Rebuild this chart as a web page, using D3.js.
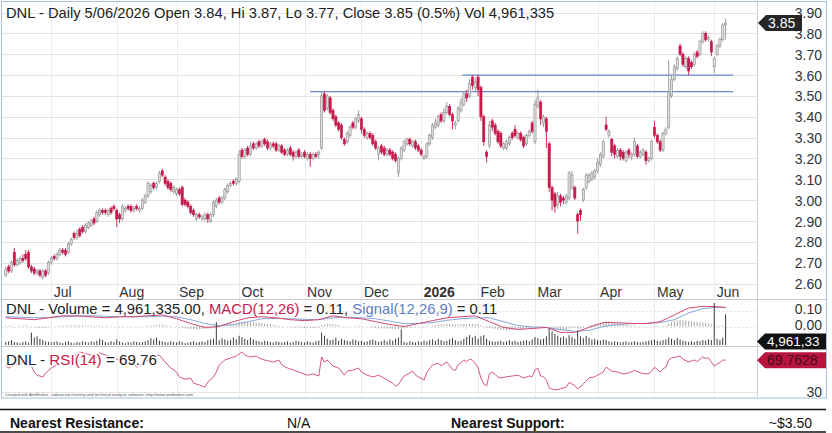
<!DOCTYPE html>
<html><head><meta charset="utf-8">
<script src="https://cdn.jsdelivr.net/npm/d3@7"></script>
<style>body{margin:0;background:#fff;}svg{display:block;font-family:"Liberation Sans",Arial,Helvetica,sans-serif;}</style>
</head><body>
<svg id="chart" width="832" height="433"></svg>
<script>
// ---------------- DATA ----------------
const opens=[
2.64,2.68,2.66,2.75,2.69,2.70,2.72,2.74,2.75,2.68,
2.67,2.65,2.66,2.63,2.66,2.65,2.70,2.73,2.72,2.74,
2.76,2.76,2.75,2.79,2.84,2.82,2.86,2.87,2.85,2.87,
2.88,2.91,2.90,2.93,2.95,2.95,2.93,2.96,2.97,2.95,
2.93,2.91,2.95,2.97,2.97,2.95,2.97,2.95,2.96,2.99,
3.02,3.04,3.08,3.06,3.09,3.14,3.11,3.09,3.08,3.04,
3.03,3.05,3.06,3.00,2.99,2.97,2.95,2.91,2.93,2.91,
2.91,2.93,2.90,2.93,2.97,3.01,2.99,3.01,3.04,3.07,
3.09,3.08,3.09,3.24,3.21,3.25,3.22,3.27,3.25,3.28,
3.26,3.29,3.28,3.25,3.27,3.27,3.24,3.26,3.24,3.22,
3.25,3.23,3.21,3.24,3.21,3.23,3.20,3.22,3.20,3.22,
3.22,3.25,3.51,3.44,3.49,3.43,3.40,3.37,3.36,3.29,
3.28,3.31,3.37,3.35,3.38,3.39,3.34,3.30,3.32,3.31,
3.28,3.22,3.26,3.25,3.22,3.24,3.23,3.22,3.13,3.20,
3.24,3.27,3.29,3.26,3.28,3.26,3.24,3.20,3.21,3.27,
3.30,3.35,3.36,3.41,3.38,3.42,3.45,3.41,3.36,3.38,
3.43,3.46,3.51,3.50,3.59,3.54,3.59,3.54,3.40,3.23,
3.26,3.38,3.36,3.33,3.32,3.25,3.25,3.27,3.32,3.34,
3.30,3.32,3.30,3.27,3.31,3.37,3.28,3.45,3.47,3.37,
3.39,3.27,3.06,3.03,2.98,3.02,3.01,2.99,3.01,3.06,
3.06,2.93,2.95,3.00,3.06,3.09,3.10,3.11,3.14,3.17,
3.21,3.36,3.31,3.29,3.26,3.21,3.24,3.23,3.19,3.24,
3.21,3.22,3.26,3.21,3.22,3.23,3.19,3.20,3.35,3.31,
3.28,3.24,3.32,3.35,3.50,3.58,3.63,3.74,3.70,3.64,
3.68,3.66,3.65,3.71,3.70,3.76,3.80,3.77,3.76,3.64,
3.70,3.74,3.77,3.84];
const highs=[
2.68,2.69,2.71,2.77,2.72,2.73,2.74,2.76,2.76,2.69,
2.68,2.67,2.67,2.67,2.67,2.71,2.73,2.74,2.75,2.77,
2.77,2.77,2.80,2.82,2.85,2.86,2.87,2.88,2.89,2.90,
2.91,2.92,2.95,2.96,2.96,2.96,2.96,2.97,2.98,2.96,
2.94,2.98,2.97,2.98,2.98,2.97,2.98,2.97,3.01,3.03,
3.09,3.08,3.09,3.09,3.14,3.15,3.12,3.10,3.09,3.07,
3.06,3.06,3.07,3.01,3.00,2.98,2.96,2.94,2.94,2.93,
2.94,2.94,2.94,3.00,3.01,3.02,3.02,3.06,3.08,3.09,
3.10,3.11,3.24,3.25,3.25,3.26,3.28,3.28,3.28,3.29,
3.29,3.30,3.29,3.28,3.28,3.28,3.27,3.27,3.25,3.25,
3.26,3.24,3.24,3.25,3.23,3.24,3.23,3.23,3.23,3.23,
3.24,3.52,3.52,3.51,3.50,3.44,3.41,3.38,3.37,3.30,
3.33,3.36,3.38,3.40,3.43,3.40,3.35,3.33,3.33,3.32,
3.29,3.26,3.27,3.26,3.25,3.25,3.24,3.23,3.21,3.26,
3.29,3.30,3.30,3.29,3.29,3.27,3.25,3.22,3.28,3.32,
3.37,3.39,3.41,3.42,3.44,3.47,3.46,3.42,3.38,3.45,
3.49,3.52,3.53,3.58,3.60,3.59,3.60,3.55,3.41,3.24,
3.38,3.39,3.37,3.34,3.33,3.28,3.29,3.31,3.33,3.36,
3.33,3.33,3.31,3.32,3.34,3.38,3.48,3.53,3.48,3.41,
3.40,3.28,3.07,3.04,3.04,3.03,3.02,3.03,3.14,3.14,
3.07,2.94,2.96,3.06,3.13,3.13,3.14,3.15,3.20,3.23,
3.29,3.40,3.34,3.30,3.27,3.25,3.25,3.24,3.24,3.25,
3.23,3.30,3.27,3.24,3.25,3.24,3.21,3.29,3.38,3.32,
3.29,3.33,3.35,3.67,3.60,3.65,3.69,3.75,3.71,3.69,
3.69,3.67,3.71,3.72,3.77,3.81,3.81,3.79,3.77,3.69,
3.75,3.78,3.85,3.87];
const lows=[
2.63,2.65,2.65,2.68,2.68,2.69,2.70,2.71,2.67,2.65,
2.64,2.64,2.63,2.62,2.63,2.64,2.69,2.71,2.71,2.73,
2.74,2.73,2.74,2.78,2.81,2.81,2.82,2.84,2.84,2.86,
2.87,2.88,2.89,2.92,2.93,2.93,2.92,2.93,2.95,2.87,
2.89,2.90,2.94,2.95,2.94,2.94,2.95,2.94,2.95,2.98,
3.01,3.03,3.05,3.05,3.08,3.11,3.07,3.05,3.04,3.03,
3.02,3.02,2.97,2.97,2.96,2.93,2.92,2.90,2.91,2.90,
2.90,2.89,2.89,2.92,2.96,2.98,2.98,3.00,3.03,3.06,
3.07,3.07,3.08,3.20,3.20,3.21,3.21,3.24,3.24,3.25,
3.25,3.26,3.24,3.24,3.25,3.23,3.23,3.22,3.21,3.21,
3.21,3.19,3.20,3.20,3.20,3.20,3.19,3.16,3.19,3.20,
3.20,3.24,3.42,3.43,3.41,3.38,3.35,3.33,3.29,3.26,
3.27,3.30,3.34,3.34,3.37,3.32,3.30,3.29,3.29,3.26,
3.24,3.19,3.22,3.21,3.21,3.21,3.19,3.18,3.11,3.19,
3.23,3.26,3.26,3.25,3.24,3.23,3.21,3.19,3.20,3.26,
3.29,3.34,3.35,3.37,3.37,3.41,3.40,3.34,3.34,3.37,
3.42,3.45,3.47,3.49,3.53,3.52,3.50,3.38,3.26,3.18,
3.25,3.33,3.31,3.27,3.25,3.24,3.24,3.26,3.29,3.30,
3.29,3.28,3.25,3.26,3.30,3.32,3.27,3.44,3.36,3.35,
3.25,3.04,2.95,2.94,2.96,2.97,2.98,2.98,3.00,3.05,
3.00,2.84,2.90,2.99,3.05,3.08,3.09,3.10,3.13,3.16,
3.20,3.33,3.30,3.21,3.20,3.20,3.19,3.19,3.18,3.20,
3.19,3.21,3.20,3.20,3.21,3.17,3.18,3.19,3.30,3.27,
3.23,3.23,3.31,3.34,3.49,3.57,3.62,3.69,3.64,3.63,
3.60,3.63,3.64,3.68,3.69,3.75,3.76,3.76,3.69,3.61,
3.69,3.73,3.76,3.77];
const closes=[
2.67,2.66,2.70,2.69,2.71,2.72,2.71,2.72,2.68,2.66,
2.65,2.66,2.64,2.66,2.64,2.70,2.72,2.72,2.74,2.76,
2.75,2.74,2.79,2.81,2.82,2.84,2.83,2.85,2.88,2.89,
2.90,2.89,2.94,2.95,2.94,2.94,2.95,2.94,2.96,2.91,
2.91,2.97,2.96,2.96,2.95,2.96,2.96,2.96,3.00,3.02,
3.08,3.07,3.06,3.08,3.13,3.12,3.08,3.06,3.05,3.06,
3.05,3.03,2.98,2.98,2.97,2.94,2.93,2.93,2.92,2.92,
2.93,2.91,2.93,2.99,3.00,2.99,3.01,3.05,3.07,3.08,
3.08,3.10,3.22,3.21,3.24,3.22,3.26,3.25,3.27,3.26,
3.28,3.27,3.25,3.27,3.26,3.24,3.26,3.23,3.22,3.24,
3.22,3.21,3.23,3.21,3.22,3.21,3.22,3.20,3.22,3.21,
3.23,3.50,3.43,3.50,3.42,3.39,3.36,3.34,3.30,3.27,
3.32,3.35,3.35,3.39,3.41,3.34,3.31,3.32,3.30,3.27,
3.25,3.25,3.23,3.22,3.24,3.22,3.20,3.19,3.20,3.25,
3.28,3.29,3.27,3.28,3.25,3.24,3.22,3.21,3.27,3.31,
3.36,3.37,3.40,3.38,3.42,3.45,3.41,3.38,3.37,3.44,
3.47,3.51,3.49,3.56,3.55,3.57,3.53,3.40,3.28,3.21,
3.36,3.35,3.32,3.28,3.26,3.27,3.28,3.30,3.30,3.31,
3.32,3.29,3.26,3.31,3.33,3.33,3.46,3.49,3.39,3.40,
3.33,3.06,3.00,2.97,3.02,2.99,3.00,3.02,3.13,3.12,
3.01,2.90,2.93,3.05,3.12,3.12,3.13,3.14,3.18,3.22,
3.28,3.34,3.33,3.23,3.22,3.24,3.21,3.20,3.23,3.22,
3.22,3.28,3.21,3.23,3.24,3.19,3.20,3.28,3.31,3.28,
3.24,3.32,3.34,3.52,3.58,3.64,3.68,3.70,3.65,3.68,
3.62,3.64,3.70,3.69,3.76,3.80,3.77,3.78,3.71,3.68,
3.74,3.77,3.84,3.85];
// volume in millions of shares
const volumes=[
0.5,0.6,0.8,0.5,0.4,0.3,0.5,0.6,0.4,2.0,
1.2,1.4,1.0,0.8,0.6,0.5,0.4,0.5,0.6,0.4,
0.3,0.5,0.6,0.4,0.3,0.5,0.4,0.6,0.5,0.4,
0.6,0.5,0.7,1.0,0.8,0.5,0.4,0.6,0.5,0.9,
0.6,0.4,0.3,0.5,0.4,0.6,0.5,0.4,0.5,0.6,
0.8,1.1,0.9,1.2,0.7,0.6,0.5,0.4,0.6,0.5,
0.4,0.6,0.5,0.3,0.4,0.5,0.6,0.4,0.5,0.6,
0.5,0.8,0.9,1.0,3.7,0.8,1.1,0.9,0.7,0.8,
1.2,0.9,1.5,1.3,1.0,0.8,1.2,0.9,0.7,0.6,
0.5,0.7,0.6,0.5,0.4,0.6,0.5,0.4,0.5,0.6,
0.4,0.5,0.7,0.6,0.5,0.4,0.6,0.5,0.4,0.6,
0.7,2.0,1.5,1.0,0.8,0.9,1.2,0.7,1.0,0.8,
0.7,0.6,0.9,0.8,0.6,0.7,0.5,0.6,0.8,0.9,
0.7,0.5,0.6,0.8,0.6,0.9,0.7,1.0,1.2,2.5,
0.5,0.4,0.6,0.5,0.4,0.6,0.5,0.7,0.6,0.8,
0.9,0.7,1.0,0.8,0.6,0.7,0.9,1.1,0.8,0.6,
0.7,1.0,1.3,1.6,1.2,1.5,1.0,1.4,1.6,1.0,
0.7,0.6,0.5,0.6,0.7,0.5,0.6,0.8,0.6,0.7,
0.5,0.6,0.7,0.8,0.6,0.9,1.3,1.1,0.9,1.0,
1.4,2.6,2.2,1.8,1.5,1.2,1.4,1.1,1.6,1.3,
1.0,2.3,1.4,1.1,1.5,1.2,0.9,1.0,0.8,0.7,
0.9,0.8,0.6,0.5,0.6,0.5,0.4,0.5,0.6,0.4,
0.5,0.6,0.5,0.4,0.5,0.6,0.7,0.8,0.9,0.7,
0.6,0.8,0.9,1.2,1.0,0.8,1.1,0.9,0.7,0.6,
0.5,0.6,0.5,0.7,0.6,0.8,0.7,0.9,0.8,6.8,
1.0,0.8,1.2,4.96];
const macdHist=[
0.006,0.005,0.004,0.002,0.003,0.004,0.005,0.006,0.003,-0.002,
-0.005,-0.007,-0.008,-0.008,-0.009,-0.005,-0.002,0.001,0.003,0.005,
0.006,0.006,0.007,0.008,0.009,0.009,0.008,0.008,0.007,0.006,
0.006,0.005,0.006,0.006,0.005,0.004,0.003,0.002,0.002,-0.001,
-0.003,-0.002,-0.001,-0.001,-0.002,-0.002,-0.002,-0.001,0.001,0.003,
0.006,0.008,0.008,0.009,0.011,0.011,0.009,0.006,0.003,0.000,
-0.003,-0.006,-0.009,-0.012,-0.014,-0.016,-0.017,-0.018,-0.018,-0.017,
-0.016,-0.015,-0.013,-0.008,-0.004,-0.001,0.003,0.008,0.012,0.015,
0.017,0.019,0.028,0.030,0.031,0.030,0.030,0.028,0.026,0.024,
0.022,0.019,0.016,0.014,0.011,0.008,0.006,0.003,0.000,-0.002,
-0.004,-0.006,-0.006,-0.008,-0.008,-0.009,-0.009,-0.010,-0.009,-0.009,
-0.008,0.010,0.014,0.018,0.017,0.015,0.012,0.009,0.005,0.001,
0.001,0.002,0.002,0.003,0.004,0.002,-0.001,-0.003,-0.005,-0.008,
-0.010,-0.011,-0.012,-0.013,-0.013,-0.014,-0.015,-0.016,-0.017,-0.015,
-0.012,-0.009,-0.007,-0.005,-0.004,-0.004,-0.005,-0.005,-0.002,0.002,
0.006,0.009,0.012,0.013,0.015,0.017,0.016,0.014,0.012,0.013,
0.014,0.016,0.015,0.017,0.016,0.016,0.013,0.006,-0.003,-0.011,
-0.010,-0.012,-0.015,-0.019,-0.022,-0.023,-0.024,-0.023,-0.022,-0.020,
-0.019,-0.019,-0.019,-0.016,-0.013,-0.011,-0.002,0.004,0.004,0.003,
-0.001,-0.012,-0.020,-0.026,-0.026,-0.026,-0.024,-0.021,-0.013,-0.008,
-0.008,-0.014,-0.013,-0.006,0.002,0.008,0.012,0.016,0.020,0.024,
0.028,0.033,0.034,0.030,0.025,0.022,0.018,0.014,0.011,0.008,
0.006,0.006,0.003,0.002,0.001,-0.001,-0.002,0.001,0.004,0.005,
0.003,0.005,0.007,0.019,0.029,0.036,0.040,0.042,0.040,0.039,
0.035,0.032,0.031,0.028,0.027,0.026,0.023,0.020,0.014,0.008,
0.006,0.005,0.006,0.007];
const macdDays=[0,5,10,15,20,25,30,35,40,45,50,55,60,65,70,75,80,85,90,95,100,105,110,115,120,125,130,135,140,145,150,155,160,165,170,175,180,185,190,195,200,205,210,215,220,225,230,235,240,245,250,253];
const macdValues=[0.056,0.050,0.044,0.056,0.069,0.069,0.063,0.056,0.063,0.063,
0.069,0.075,0.050,0.019,-0.006,0.000,0.031,0.056,0.063,0.056,
0.044,0.038,0.044,0.069,0.056,0.050,0.031,0.013,0.000,0.019,
0.038,0.056,0.063,0.069,0.031,-0.006,-0.019,-0.013,-0.006,-0.038,
-0.038,-0.006,0.025,0.025,0.019,0.019,0.031,0.075,0.119,0.130,
0.128,0.123];
const signalValues=[0.063,0.060,0.056,0.058,0.063,0.066,0.069,0.066,0.063,0.063,
0.063,0.067,0.063,0.044,0.019,0.006,0.013,0.031,0.050,0.052,
0.050,0.046,0.044,0.056,0.060,0.056,0.050,0.035,0.019,0.019,
0.025,0.040,0.050,0.056,0.056,0.031,0.006,-0.003,-0.006,-0.020,
-0.031,-0.025,0.000,0.013,0.019,0.020,0.025,0.044,0.088,0.115,
0.124,0.121];
const rsiDays=[0,1,3,5,7,9,10,11,13,14,16,18,20,23,26,30,33,37,40,44,
46,49,52,54,56,58,60,61,63,65,66,68,70,71,73,74,75,77,79,81,
83,84,86,88,89,91,94,96,97,99,101,103,106,108,110,111,112,113,115,117,
119,120,122,124,125,127,129,131,133,134,136,137,138,139,140,142,143,144,145,147,
148,150,152,153,155,156,157,158,159,160,161,162,163,164,165,166,167,168,169,170,
171,172,173,174,176,178,180,182,184,185,186,187,188,189,190,191,192,193,195,197,
198,200,201,203,205,207,208,210,211,213,215,217,219,221,223,225,226,227,228,229,
230,231,232,233,234,236,237,238,240,242,243,245,246,247,248,249,250,251,252,253];
const rsiValues=[62.5,60,63.8,66,67.5,62.5,55,51,48.8,53.8,60,63.8,66,72.5,80,76,78.8,73.8,70,72.5,
61,67.5,73.8,76,67.5,60,55,48.8,46,47.5,41,38.8,36,42.5,48.8,55,63.8,70,72.5,75,
80,76,73.8,75,72.5,70,67.5,70,63.8,60,57.5,55,51,52.5,50,73.8,67.5,70,62.5,60,
51,56,57.5,60,55,51,48.8,51,47.5,45,41,37.5,39,45,50,53.8,56,51,49,45,
55,63.8,66,63,67.5,63,58,57,64,67,70,68,71,70,66,60,47.5,40,37.5,53,
55,52,48.8,47.5,49,50,51,47.5,50,49,57.5,60,50,49,45,35,33.8,32.5,34,36,
42,38,33.8,40,47.5,49,51,55,61,56,55,52.5,53.8,57,54,52.5,53,56,61,58,
55,59,61,70,72.5,74,75,71,67.5,70,68,74,72,72.5,67.5,62,65,67,70,69.76];
const priceTicks=[2.60,2.70,2.80,2.90,3.00,3.10,3.20,3.30,3.40,3.50,3.60,3.70,3.80,3.90];
const monthStarts=[16,39,60,82,105,125,146,166,186,208,228,249];
const monthLabels=["Jul","Aug","Sep","Oct","Nov","Dec","2026","Feb","Mar","Apr","May","Jun"];
const macdTicks=[0.00,0.10];
const rsiTicks=[30];
const levelPrices=[3.52,3.60];
const levelStartDays=[107,160.5];
const levelEndDay=255.6;
const lastClose=3.85, lastVolumeLabel="4,961,33", lastRsi=69.7628;

// ---------------- LAYOUT ----------------
const FONT='"Liberation Sans",Arial,Helvetica,sans-serif';
const frameL=2, frameR=757, frameT=2, frameB=397;
const priceBottom=299, volBottom=346;
const svg=d3.select("#chart");
svg.append("rect").attr("width",832).attr("height",433).attr("fill","#fff");
svg.append("rect").attr("x",1.5).attr("y",1.5).attr("width",825).attr("height",396.5)
  .attr("fill","#fff").attr("stroke","#a8bedc").attr("stroke-width",1);

const x=d3.scaleLinear().domain([0,closes.length-1]).range([5.8,725.6]);
const y=d3.scaleLinear().domain([2.60,3.90]).range([283.5,12.5]);
const yM=d3.scaleLinear().domain([0,0.10]).range([326.5,311]);
const yV=d3.scaleLinear().domain([0,6.8]).range([345,303]);
const yR=d3.scaleLinear().domain([30,70]).range([392,360]);

// grid
const grid=svg.append("g");
grid.selectAll("line.h").data(priceTicks).join("line")
  .attr("x1",frameL).attr("x2",frameR)
  .attr("y1",d=>Math.round(y(d))+0.5).attr("y2",d=>Math.round(y(d))+0.5)
  .attr("stroke","#e2e2e2");
grid.selectAll("line.v").data(monthStarts).join("line")
  .attr("x1",d=>Math.round(x(d))+0.5).attr("x2",d=>Math.round(x(d))+0.5)
  .attr("y1",frameT).attr("y2",frameB).attr("stroke","#ececec");
grid.selectAll("line.m").data(macdTicks).join("line")
  .attr("x1",frameL).attr("x2",frameR)
  .attr("y1",d=>Math.round(yM(d))+0.5).attr("y2",d=>Math.round(yM(d))+0.5)
  .attr("stroke","#e6e6e6").attr("stroke-dasharray","2,2");
grid.selectAll("line.r").data(rsiTicks).join("line")
  .attr("x1",frameL).attr("x2",frameR)
  .attr("y1",d=>Math.round(yR(d))+0.5).attr("y2",d=>Math.round(yR(d))+0.5)
  .attr("stroke","#e6e6e6");
// panel separators & axis line
svg.append("line").attr("x1",frameL).attr("x2",826).attr("y1",priceBottom+0.5).attr("y2",priceBottom+0.5).attr("stroke","#c9c9c9");
svg.append("line").attr("x1",frameL).attr("x2",826).attr("y1",volBottom+0.5).attr("y2",volBottom+0.5).attr("stroke","#c9c9c9");
svg.append("line").attr("x1",frameR+0.5).attr("x2",frameR+0.5).attr("y1",frameT).attr("y2",frameB).attr("stroke","#cfcfcf");

// price axis (right)
const ax=svg.append("g").attr("transform",`translate(${frameR},0)`)
  .call(d3.axisRight(y).tickValues(priceTicks).tickFormat(d3.format(".2f")).tickSize(0));
ax.select(".domain").remove();
ax.attr("font-family",FONT).attr("font-size",14).attr("color","#333");
ax.selectAll("text").attr("x",65).attr("text-anchor","end").attr("dy","0.36em");

// month axis
const mx=svg.append("g").attr("transform","translate(0,284)")
  .call(d3.axisBottom(x).tickValues(monthStarts).tickFormat((d,i)=>monthLabels[i]).tickSize(0).tickPadding(3));
mx.select(".domain").remove();
mx.attr("font-family",FONT).attr("font-size",14).attr("color","#333");
mx.selectAll("text").attr("text-anchor","start").attr("dx",2)
  .attr("font-weight",(d,i)=>monthLabels[i]==="2026"?"bold":"normal");

// support / resistance levels
svg.append("g").selectAll("line").data(levelPrices).join("line")
  .attr("x1",(d,i)=>x(levelStartDays[i])).attr("x2",x(levelEndDay))
  .attr("y1",d=>y(d)).attr("y2",d=>y(d))
  .attr("stroke","#6688cc").attr("stroke-width",1.2);

// candles
const days=d3.range(closes.length);
const up=i=>closes[i]>=opens[i];
const RED="#c51a4b", UPF="#dcdcdc", UPS="#8e8e8e";
const cg=svg.append("g");
cg.selectAll("line").data(days).join("line")
  .attr("x1",i=>x(i)).attr("x2",i=>x(i))
  .attr("y1",i=>y(highs[i])).attr("y2",i=>y(lows[i]))
  .attr("stroke",i=>up(i)?UPS:RED).attr("stroke-width",0.9);
cg.selectAll("rect").data(days).join("rect")
  .attr("x",i=>x(i)-1.1).attr("width",2.2)
  .attr("y",i=>y(Math.max(opens[i],closes[i])))
  .attr("height",i=>Math.max(1,Math.abs(y(opens[i])-y(closes[i]))))
  .attr("fill",i=>up(i)?UPF:RED).attr("stroke",i=>up(i)?UPS:RED).attr("stroke-width",0.6);

// MACD histogram
svg.append("g").selectAll("line").data(days).join("line")
  .attr("x1",i=>x(i)).attr("x2",i=>x(i))
  .attr("y1",yM(0)).attr("y2",i=>yM(macdHist[i]))
  .attr("stroke","#a6a6a6").attr("stroke-width",1);
// MACD & signal
const mLine=d3.line().x((d,k)=>x(macdDays[k])).y(d=>yM(d));
svg.append("path").attr("d",mLine(signalValues)).attr("fill","none").attr("stroke","#8aa6da").attr("stroke-width",1);
svg.append("path").attr("d",mLine(macdValues)).attr("fill","none").attr("stroke","#d4486f").attr("stroke-width",1);
// volume
svg.append("g").selectAll("line").data(days).join("line")
  .attr("x1",i=>x(i)).attr("x2",i=>x(i))
  .attr("y1",yV(0)).attr("y2",i=>yV(volumes[i]))
  .attr("stroke","#3c3c3c").attr("stroke-width",1);
// RSI
const rLine=d3.line().x((d,k)=>x(rsiDays[k])).y(d=>yR(d));
svg.append("path").attr("d",rLine(rsiValues)).attr("fill","none").attr("stroke","#d9577c").attr("stroke-width",1);

// right labels for sub panels
const sub=svg.append("g").attr("font-family",FONT).attr("font-size",14).attr("fill","#333").attr("text-anchor","end");
sub.selectAll("text.m").data(macdTicks).join("text").attr("x",822).attr("y",d=>yM(d)-1).attr("dy","0.32em").text(d3.format(".2f"));
sub.selectAll("text.r").data(rsiTicks).join("text").attr("x",822).attr("y",d=>yR(d)).attr("dy","0.36em").text(d=>d);

// value tags
function tag(yc,x0,x1,fill,txt,tcol,fs){
  const g=svg.append("g");
  g.append("path").attr("d",`M${x0},${yc} L${x0+8},${yc-8} L${x1},${yc-8} L${x1},${yc+8} L${x0+8},${yc+8} Z`).attr("fill",fill);
  g.append("text").attr("x",x0+10).attr("y",yc).attr("dy","0.35em").attr("font-family",FONT).attr("font-size",fs).attr("fill",tcol).text(txt);
}
tag(y(lastClose),758,802,"#262626",d3.format(".2f")(lastClose),"#fff",14);
tag(341.5,757,826,"#111",lastVolumeLabel,"#fff",13.5);
tag(yR(lastRsi),757,826,"#b8143f",String(lastRsi),"#4a0815",14);

// titles
const t1=svg.append("text").attr("x",6).attr("y",18).attr("font-family",FONT).attr("font-size",14.7).attr("fill","#222");
t1.text("DNL - Daily 5/06/2026 Open 3.84, Hi 3.87, Lo 3.77, Close 3.85 (0.5%) Vol 4,961,335");
const t2=svg.append("text").attr("x",6).attr("y",314).attr("font-family",FONT).attr("font-size",14.8).attr("fill","#222");
t2.append("tspan").text("DNL - Volume = 4,961,335.00, ");
t2.append("tspan").attr("fill","#c51a4b").text("MACD(12,26)");
t2.append("tspan").text(" = 0.11, ");
t2.append("tspan").attr("fill","#5b80c4").text("Signal(12,26,9)");
t2.append("tspan").text(" = 0.11");
const t3=svg.append("text").attr("x",6).attr("y",365).attr("font-family",FONT).attr("font-size",15.2).attr("fill","#222")
  .attr("stroke","#fff").attr("stroke-width",3).attr("stroke-linejoin","round").attr("paint-order","stroke");
t3.append("tspan").text("DNL - ");
t3.append("tspan").attr("fill","#c51a4b").text("RSI(14)");
t3.append("tspan").text(" = 69.76");
svg.append("text").attr("x",5).attr("y",396).attr("font-family",FONT).attr("font-size",4.2).attr("fill","#555")
  .attr("textLength",188).text("Created with AmiBroker - advanced charting and technical analysis software. http://www.amibroker.com");

// bottom table
svg.append("line").attr("x1",0).attr("x2",826).attr("y1",409.5).attr("y2",409.5).attr("stroke","#111").attr("stroke-width",1.4);
svg.append("line").attr("x1",0).attr("x2",826).attr("y1",432).attr("y2",432).attr("stroke","#111").attr("stroke-width",1.4);
const tb=svg.append("g").attr("font-family",FONT).attr("font-size",14).attr("fill","#111");
tb.append("text").attr("x",10).attr("y",428).attr("font-weight","bold").text("Nearest Resistance:");
tb.append("text").attr("x",287).attr("y",428).text("N/A");
tb.append("text").attr("x",451).attr("y",428).attr("font-weight","bold").text("Nearest Support:");
tb.append("text").attr("x",812).attr("y",428).attr("text-anchor","end").text("~$3.50");
</script>
</body></html>
